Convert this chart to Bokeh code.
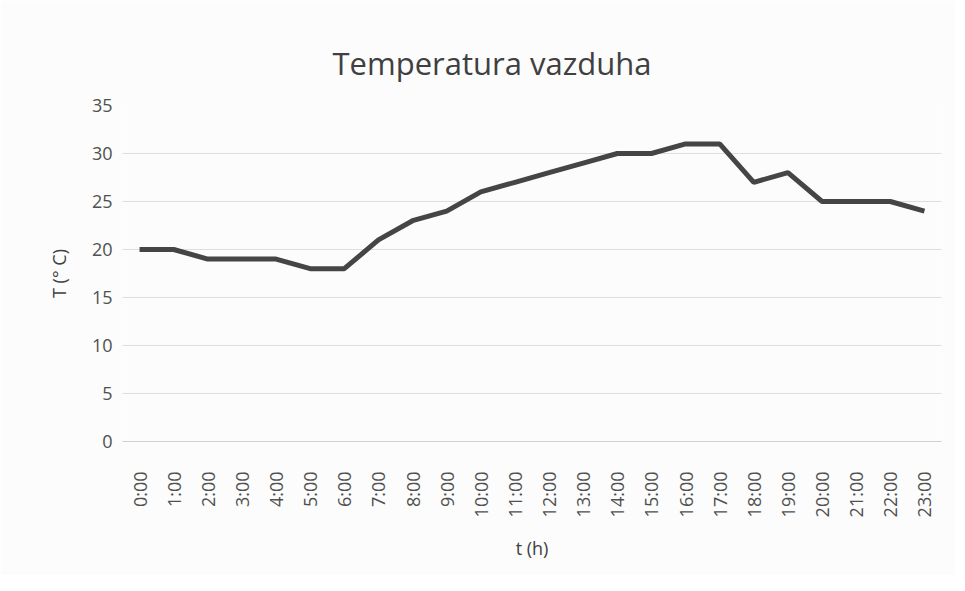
import math
from bokeh.plotting import figure
from bokeh.models import FixedTicker, Range1d
from bokeh.embed import file_html
from bokeh.resources import INLINE

hours = ["0:00", "1:00", "2:00", "3:00", "4:00", "5:00", "6:00", "7:00", "8:00", "9:00",
         "10:00", "11:00", "12:00", "13:00", "14:00", "15:00", "16:00", "17:00", "18:00",
         "19:00", "20:00", "21:00", "22:00", "23:00"]
temps = [20, 20, 19, 19, 19, 18, 18, 21, 23, 24, 26, 27, 28, 29, 30, 30, 31, 31, 27, 28,
         25, 25, 25, 24]
y_ticks = [0, 5, 10, 15, 20, 25, 30, 35]

FONT = "Open Sans"
BG = "#fbfcfb"

p = figure(x_range=hours, y_range=Range1d(0, 35), width=955, height=575,
           output_backend="svg", toolbar_location=None,
           title="Temperatura vazduha",
           min_border_left=122, min_border_right=14, min_border_top=105, min_border_bottom=134)
p.background_fill_color = BG
p.border_fill_color = BG
p.outline_line_color = None

p.line(hours, temps, line_color="#454545", line_width=5)

p.title.align = "left"
p.title.text_font = FONT
p.title.text_font_size = "31px"
p.title.text_font_style = "normal"
p.title.text_color = "#404040"
p.title.standoff = 44
p.title.offset = 210

p.xgrid.grid_line_color = None
p.ygrid.grid_line_color = "#dedede"
p.ygrid.grid_line_width = 1

p.yaxis.ticker = FixedTicker(ticks=y_ticks)
p.yaxis.axis_line_color = None
p.yaxis.major_tick_line_color = None
p.yaxis.minor_tick_line_color = None
p.yaxis.major_label_text_font = FONT
p.yaxis.major_label_text_font_size = "18px"
p.yaxis.major_label_text_color = "#505050"
p.yaxis.major_label_standoff = 4
p.yaxis.axis_label = "T (° C)"
p.yaxis.axis_label_text_font = FONT
p.yaxis.axis_label_text_font_size = "18px"
p.yaxis.axis_label_text_font_style = "normal"
p.yaxis.axis_label_text_color = "#404040"
p.yaxis.axis_label_standoff = 18

p.xaxis.axis_line_color = "#d0d0d0"
p.xaxis.major_tick_line_color = None
p.xaxis.minor_tick_line_color = None
p.xaxis.major_label_orientation = math.pi / 2
p.xaxis.major_label_text_font = FONT
p.xaxis.major_label_text_font_size = "18px"
p.xaxis.major_label_text_color = "#505050"
p.xaxis.major_label_standoff = 24
p.xaxis.axis_label = "t (h)"
p.xaxis.axis_label_text_font = FONT
p.xaxis.axis_label_text_font_size = "18px"
p.xaxis.axis_label_text_font_style = "normal"
p.xaxis.axis_label_text_color = "#404040"
p.xaxis.axis_label_standoff = 16

open("out.html", "w").write(file_html(p, INLINE))
